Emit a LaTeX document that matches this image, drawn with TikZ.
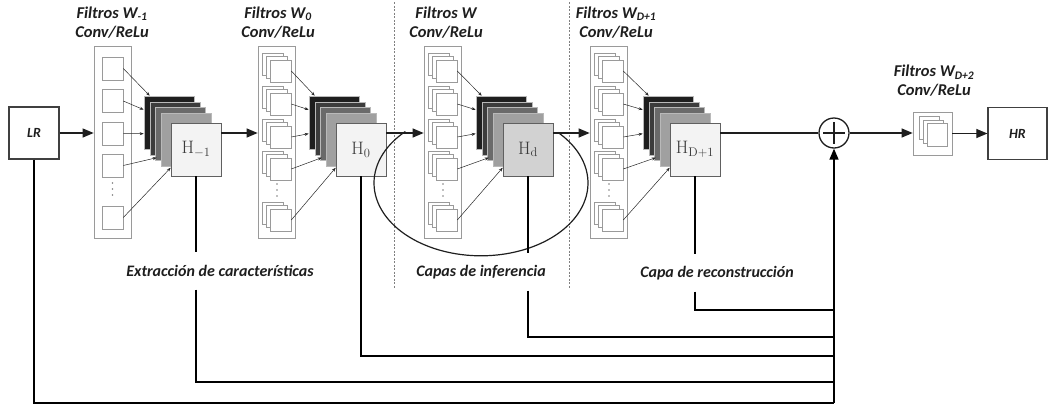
\documentclass[tikz,border=0pt]{standalone}
\usepackage{fix-cm}
\usepackage{fontspec}
\newfontfamily\labfont{Carlito}
\usetikzlibrary{arrows.meta,calc}

\definecolor{frame}{HTML}{9A9A9A}
\definecolor{ink}{HTML}{1E1E1E}
\definecolor{layA}{HTML}{1E1E1E}
\definecolor{layB}{HTML}{3C3C3C}
\definecolor{layC}{HTML}{6A6A6A}
\definecolor{layD}{HTML}{A0A0A0}
\definecolor{hlight}{HTML}{F3F3F3}
\definecolor{hdark}{HTML}{D2D2D2}
\definecolor{htext}{HTML}{3A3A3A}

\tikzset{
  iobox/.style={draw=ink!85, line width=1.2pt, minimum width=50pt, minimum height=52pt, inner sep=0pt,
    font=\labfont\bfseries\itshape\fontsize{14}{16}\selectfont, text=ink},
  colbox/.style={draw=frame, line width=0.7pt, minimum width=37pt, minimum height=192pt, inner sep=0pt},
  hmap/.style={draw=gray!75!black, line width=0.6pt, minimum width=50pt, minimum height=53pt, inner sep=0pt,
    text=htext, font=\fontsize{18}{21}\selectfont},
  layer/.style={draw=gray!55, line width=0.5pt},
  kernbox/.style={draw=frame, fill=white, line width=0.6pt, minimum width=21pt, minimum height=22pt, inner sep=0pt},
  titletext/.style={align=center, font=\labfont\bfseries\itshape\fontsize{16.5}{19}\selectfont, text=ink},
  stagetext/.style={font=\labfont\bfseries\itshape\fontsize{16}{18}\selectfont, text=ink, inner sep=0pt, minimum height=37pt},
  flowarrow/.style={draw=ink, line width=1.1pt, -{Triangle[length=11pt,width=9pt]}},
  flowline/.style={draw=ink, line width=1.1pt},
  wirearrow/.style={draw=gray!30!black, line width=0.5pt, -{Stealth[length=4pt,width=3pt]}},
  skipline/.style={draw=black, line width=1.5pt},
  sepline/.style={draw=gray, line width=0.6pt, dash pattern=on 2pt off 1.5pt},
  cycleline/.style={draw=ink, line width=1.2pt},
}

\begin{document}
\begin{tikzpicture}[x=1pt, y=-1pt]
\useasboundingbox (0,0) rectangle (1050,410);
\coordinate (row) at (0,133);

% input and output images
\node[iobox] (lr) at (34,133) {LR};
\node[iobox, minimum width=59pt] (hr) at (1017.5,133.5) {HR};

% separators between the stages
\draw[sepline] (394,2) -- (394,288);
\draw[sepline] (569,2) -- (569,288);

% filter banks and their titles
\foreach \i/\cx/\tx/\ttl in {1/94/112/{Filtros W\textsubscript{-1}},2/258/278/{Filtros W\textsubscript{0}},3/424/446/{Filtros W},4/590/616/{Filtros W\textsubscript{D+1}}}{
  \node[colbox] (c\i) at (\cx+18.5,142) {};
  \node[titletext] (t\i) at (\tx,22.5) {\ttl\\Conv/ReLu};
}

% single kernels of the first bank
\foreach \k/\ky in {1/68.5,2/101,3/133.5,4/165.5,5/217.5}
  \node[kernbox, minimum height=23pt] (k1-\k) at (112.5,\ky) {};
\foreach \d in {0,6,12} \fill[gray] (112.5,\d+183) circle (0.9);

% stacked kernels of the other banks
\foreach \i/\cx in {2/258,3/424,4/590}{
  \foreach \k/\ky in {1/71,2/104,3/137,4/169,5/220}{
    \node[kernbox] at (\cx+14.5,\ky-7) {};
    \node[kernbox] at (\cx+18.5,\ky-3.5) {};
    \node[kernbox] (k\i-\k) at (\cx+22.5,\ky) {};
  }
  \foreach \d in {0,6,12} \fill[gray] (\cx+19,\d+184) circle (0.9);
}

% feature maps
\foreach \i/\hx/\lab/\hf in {1/171/{H$_{-1}$}/hlight,2/336/{H$_0$}/hlight,3/503/{H$_{\mathrm{d}}$}/hdark,4/670/{H$_{\mathrm{D+1}}$}/hlight}{
  \foreach \o/\c in {27/layA,21/layB,16/layC,10/layD}
    \filldraw[layer, fill=\c] (\hx-\o,123-\o) rectangle +(50,53);
  \node[hmap, fill=\hf] (h\i) at (\hx+25,149.5) {\lab};
  \draw[wirearrow] (k\i-1.east) -- ($(h\i.north west)+(-21,-27)$);
  \draw[wirearrow] (k\i-2.east) -- ($(h\i.north west)+(-27,-13)$);
  \draw[wirearrow] (k\i-3.east) -- ($(h\i.north west)+(-27,11)$);
  \draw[wirearrow] (k\i-4.east) -- ($(h\i.north west)+(-14,35)$);
  \draw[wirearrow] (k\i-5.east) -- ($(h\i.north west)+(0,45)$);
}

% reconstruction filter
\node[draw=frame, line width=0.7pt, minimum width=39pt, minimum height=43pt, inner sep=0pt] (f5) at (932.5,133.5) {};
\node[kernbox, minimum width=20pt, minimum height=23pt] at (929,128) {};
\node[kernbox, minimum width=20pt, minimum height=23pt] at (933,131.5) {};
\node[kernbox, minimum width=20pt, minimum height=23pt] at (937,135) {};
\node[titletext] (t5) at (934,81) {Filtros W\textsubscript{D+2}\\Conv/ReLu};

% summation
\node[draw=ink, circle, line width=1.3pt, minimum size=30pt, inner sep=0pt, fill=white] (sum) at (834,133) {};
\draw[ink, line width=1.2pt] ($(sum.center)+(-11,0)$) -- ($(sum.center)+(11,0)$);
\draw[ink, line width=1.2pt] ($(sum.center)+(0,-11)$) -- ($(sum.center)+(0,11)$);

% main data flow
\draw[flowarrow] (lr.east) -- (c1.west |- lr.east);
\draw[flowarrow] (h1.east |- row) -- (c2.west |- row);
\draw[flowarrow] (h2.east |- row) -- (c3.west |- row);
\draw[flowarrow] (h3.east |- row) -- (c4.west |- row);
\draw[flowline] (h4.east |- row) -- (sum.west);
\draw[flowarrow] (sum.east) -- (f5.west |- sum.east);
\draw[flowarrow] (f5.east) -- (hr.west |- f5.east);

% recursion loop around the inference layer
\draw[cycleline] plot[domain=-44:225, samples=90, smooth] ({481+107*cos(\x)},{183+72.8*sin(\x)});

% stage labels
\node[stagetext] (s1) at (220,271) {Extracción de características};
\node[stagetext] (s2) at (481,272) {Capas de inferencia};
\node[stagetext] (s3) at (717,273) {Capa de reconstrucción};

% skip connections into the summation
\coordinate (j0) at (sum |- 0,403);
\coordinate (j1) at (sum |- 0,382);
\coordinate (j2) at (sum |- 0,356);
\coordinate (j3) at (sum |- 0,337);
\coordinate (j4) at (sum |- 0,310);
\draw[skipline] (lr.south) |- (j0);
\draw[skipline, -{Triangle[length=11pt,width=9pt]}] (j0) -- (sum.south);
\draw[skipline] (h1.south) -- (h1.south |- s1.north);
\draw[skipline] (h1.south |- s1.south) |- (j1);
\draw[skipline] (h2.south) |- (j2);
\draw[skipline] (h3.south) -- (h3.south |- s2.north);
\draw[skipline] (h3.south |- s2.south) |- (j3);
\draw[skipline] (h4.south) -- (h4.south |- s3.north);
\draw[skipline] (h4.south |- s3.south) |- (j4);
\end{tikzpicture}
\end{document}
